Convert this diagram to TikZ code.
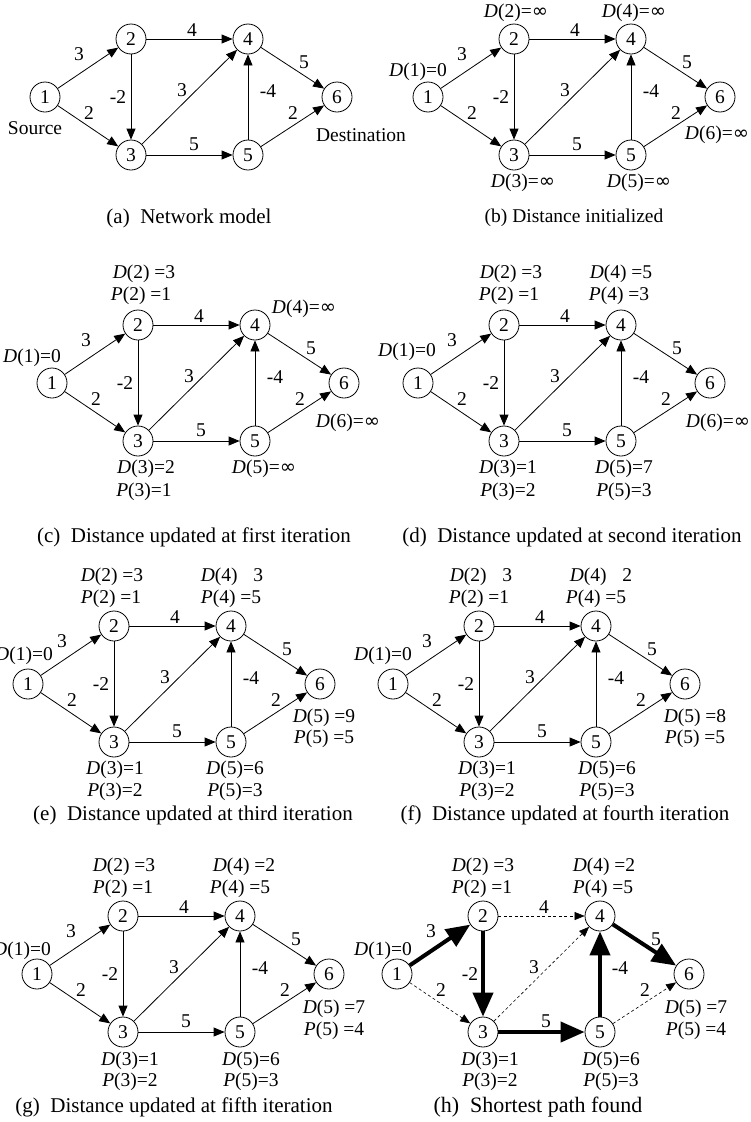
\documentclass[tikz,border=0pt]{standalone}
\usepackage{fontspec}
\setmainfont{Liberation Serif}
\newfontfamily\symfont{DejaVu Sans}
\usetikzlibrary{arrows.meta}

\newcommand\Dd{\textit{D}}
\newcommand\Pp{\textit{P}}
\newcommand\Inf{{\symfont ∞}}

% six-vertex network; #1 = name prefix, (#2,#3) = centre of vertex 1
\newcommand\netgraph[3]{%
  \node[vert] (#11) at (#2,#3) {1};
  \node[vert] (#12) at (#2+86,#3-58) {2};
  \node[vert] (#13) at (#2+86,#3+58) {3};
  \node[vert] (#14) at (#2+203,#3-58) {4};
  \node[vert] (#15) at (#2+203,#3+58) {5};
  \node[vert] (#16) at (#2+292,#3) {6};
  \draw[e12] (#11) -- (#12);
  \draw[e13] (#11) -- (#13);
  \draw[e24] (#12) -- (#14);
  \draw[e23] (#12) -- (#13);
  \draw[e34] (#13) -- (#14);
  \draw[e35] (#13) -- (#15);
  \draw[e54] (#15) -- (#14);
  \draw[e46] (#14) -- (#16);
  \draw[e56] (#15) -- (#16);
  \node[wlab] (#1w12) at (#2+34,#3-43) {3};
  \node[wlab] (#1w13) at (#2+44,#3+16) {2};
  \node[wlab] (#1w24) at (#2+147,#3-67) {4};
  \node[wlab] (#1w23) at (#2+73,#3) {-2};
  \node[wlab] (#1w34) at (#2+137,#3-7) {3};
  \node[wlab] (#1w54) at (#2+223,#3-6) {-4};
  \node[wlab] (#1w35) at (#2+149,#3+47) {5};
  \node[wlab] (#1w46) at (#2+259,#3-35) {5};
  \node[wlab] (#1w56) at (#2+248,#3+16) {2};
}

\begin{document}
\begin{tikzpicture}[x=1pt,y=-1pt,
  vert/.style={circle,draw,line width=0.8pt,minimum size=30pt,inner sep=0pt,
    font=\fontsize{19.5}{20}\selectfont},
  wlab/.style={inner sep=0pt,font=\fontsize{19.5}{20}\selectfont},
  dlab/.style={inner sep=0pt,font=\fontsize{19.5}{20}\selectfont},
  capt/.style={inner sep=0pt,font=\fontsize{21}{24}\selectfont},
  plainedge/.style={-{Triangle[length=11pt,width=9pt]},line width=0.8pt},
  bestedge/.style={-{Triangle[length=24pt,width=20pt]},line width=4pt},
  spareedge/.style={-{Triangle[length=10pt,width=8pt]},line width=0.6pt,
    dash pattern=on 3pt off 2.5pt},
  e12/.style={plainedge},e13/.style={plainedge},e24/.style={plainedge},
  e23/.style={plainedge},e34/.style={plainedge},e35/.style={plainedge},
  e54/.style={plainedge},e46/.style={plainedge},e56/.style={plainedge}]
\useasboundingbox (0,0) rectangle (751,1122);

% (a) network model
\netgraph{a}{45}{97}
\node[dlab] (asrc) at ([shift={(-10,31)}]a1) {Source};
\node[dlab] (adst) at ([shift={(24,38)}]a6) {Destination};
\node[capt] (capa) at (189,218) {(a)\hspace{0.5em}Network model};

% (b) initial distances
\netgraph{b}{428}{97}
\node[dlab] (bD1) at ([shift={(-10,-25)}]b1) {\Dd(1)=0};
\node[dlab] (bD2) at ([shift={(2,-26)}]b2) {\Dd(2)=\Inf};
\node[dlab] (bD4) at ([shift={(3,-26)}]b4) {\Dd(4)=\Inf};
\node[dlab] (bD6) at ([shift={(-3,38)}]b6) {\Dd(6)=\Inf};
\node[dlab] (bD3) at ([shift={(9,28)}]b3) {\Dd(3)=\Inf};
\node[dlab] (bD5) at ([shift={(8,28)}]b5) {\Dd(5)=\Inf};
\node[capt,font=\fontsize{19.5}{22}\selectfont] (capb) at (574,218) {(b) Distance initialized};

% (c) first iteration
\netgraph{c}{52}{383}
\node[dlab] (cD1) at ([shift={(-20,-25)}]c1) {\Dd(1)=0};
\node[dlab] (cD2) at ([shift={(6,-51)}]c2) {\Dd(2) =3};
\node[dlab] (cP2) at ([shift={(3,-29)}]c2) {\Pp(2) =1};
\node[dlab] (cD4) at ([shift={(49,-16)}]c4) {\Dd(4)=\Inf};
\node[dlab] (cD6) at ([shift={(4,40)}]c6) {\Dd(6)=\Inf};
\node[dlab] (cD3) at ([shift={(8,28)}]c3) {\Dd(3)=2};
\node[dlab] (cP3) at ([shift={(6,51)}]c3) {\Pp(3)=1};
\node[dlab] (cD5) at ([shift={(9,28)}]c5) {\Dd(5)=\Inf};
\node[capt] (capc) at (194,537) {(c)\hspace{0.5em}Distance updated at first iteration};

% (d) second iteration
\netgraph{d}{418}{383}
\node[dlab] (dD1) at ([shift={(-11,-31)}]d1) {\Dd(1)=0};
\node[dlab] (dD2) at ([shift={(7,-51)}]d2) {\Dd(2) =3};
\node[dlab] (dP2) at ([shift={(5,-29)}]d2) {\Pp(2) =1};
\node[dlab] (dD4) at ([shift={(0,-51)}]d4) {\Dd(4) =5};
\node[dlab] (dP4) at ([shift={(-2,-29)}]d4) {\Pp(4) =3};
\node[dlab] (dD6) at ([shift={(8,40)}]d6) {\Dd(6)=\Inf};
\node[dlab] (dD3) at ([shift={(4,28)}]d3) {\Dd(3)=1};
\node[dlab] (dP3) at ([shift={(4,51)}]d3) {\Pp(3)=2};
\node[dlab] (dD5) at ([shift={(3,28)}]d5) {\Dd(5)=7};
\node[dlab] (dP5) at ([shift={(3,51)}]d5) {\Pp(5)=3};
\node[capt] (capd) at (572,537) {(d)\hspace{0.5em}Distance updated at second iteration};

% (e) third iteration
\netgraph{e}{28}{684}
\node[dlab] (eD1) at ([shift={(-4,-28)}]e1) {\Dd(1)=0};
\node[dlab] (eD2) at ([shift={(-2,-49)}]e2) {\Dd(2) =3};
\node[dlab] (eP2) at ([shift={(-3,-27)}]e2) {\Pp(2) =1};
\node[dlab] (eD4) at ([shift={(1,-49)}]e4) {\Dd(4) \phantom{=}3};
\node[dlab] (eP4) at ([shift={(0,-27)}]e4) {\Pp(4) =5};
\node[dlab] (eD6) at ([shift={(4,34)}]e6) {\Dd(5) =9};
\node[dlab] (eP6) at ([shift={(4,55)}]e6) {\Pp(5) =5};
\node[dlab] (eD3) at ([shift={(1,28)}]e3) {\Dd(3)=1};
\node[dlab] (eP3) at ([shift={(1,50)}]e3) {\Pp(3)=2};
\node[dlab] (eD5) at ([shift={(4,28)}]e5) {\Dd(5)=6};
\node[dlab] (eP5) at ([shift={(4,50)}]e5) {\Pp(5)=3};
\node[capt] (cape) at (193,815) {(e)\hspace{0.5em}Distance updated at third iteration};

% (f) fourth iteration
\netgraph{f}{393}{684}
\node[dlab] (fD1) at ([shift={(-10,-28)}]f1) {\Dd(1)=0};
\node[dlab] (fD2) at ([shift={(2,-49)}]f2) {\Dd(2) \phantom{=}3};
\node[dlab] (fP2) at ([shift={(0,-27)}]f2) {\Pp(2) =1};
\node[dlab] (fD4) at ([shift={(5,-49)}]f4) {\Dd(4) \phantom{=}2};
\node[dlab] (fP4) at ([shift={(0,-27)}]f4) {\Pp(4) =5};
\node[dlab] (fD6) at ([shift={(10,34)}]f6) {\Dd(5) =8};
\node[dlab] (fP6) at ([shift={(10,55)}]f6) {\Pp(5) =5};
\node[dlab] (fD3) at ([shift={(8,28)}]f3) {\Dd(3)=1};
\node[dlab] (fP3) at ([shift={(8,50)}]f3) {\Pp(3)=2};
\node[dlab] (fD5) at ([shift={(11,28)}]f5) {\Dd(5)=6};
\node[dlab] (fP5) at ([shift={(11,50)}]f5) {\Pp(5)=3};
\node[capt] (capf) at (565,815) {(f)\hspace{0.5em}Distance updated at fourth iteration};

% (g) fifth iteration
\netgraph{g}{37}{974}
\node[dlab] (gD1) at ([shift={(-15,-23)}]g1) {\Dd(1)=0};
\node[dlab] (gD2) at ([shift={(1,-49)}]g2) {\Dd(2) =3};
\node[dlab] (gP2) at ([shift={(0,-27)}]g2) {\Pp(2) =1};
\node[dlab] (gD4) at ([shift={(4,-49)}]g4) {\Dd(4) =2};
\node[dlab] (gP4) at ([shift={(0,-27)}]g4) {\Pp(4) =5};
\node[dlab] (gD6) at ([shift={(5,35)}]g6) {\Dd(5) =7};
\node[dlab] (gP6) at ([shift={(5,57)}]g6) {\Pp(5) =4};
\node[dlab] (gD3) at ([shift={(7,29)}]g3) {\Dd(3)=1};
\node[dlab] (gP3) at ([shift={(7,50)}]g3) {\Pp(3)=2};
\node[dlab] (gD5) at ([shift={(11,29)}]g5) {\Dd(5)=6};
\node[dlab] (gP5) at ([shift={(11,50)}]g5) {\Pp(5)=3};
\node[capt] (capg) at (174,1107) {(g)\hspace{0.5em}Distance updated at fifth iteration};

% (h) shortest path: tree arcs bold, the others dashed
\begin{scope}[e12/.style={bestedge},e23/.style={bestedge},e35/.style={bestedge},
  e54/.style={bestedge},e46/.style={bestedge},
  e13/.style={spareedge},e24/.style={spareedge},e34/.style={spareedge},
  e56/.style={spareedge}]
\netgraph{h}{397}{974}
\end{scope}
\node[dlab] (hD1) at ([shift={(-14,-23)}]h1) {\Dd(1)=0};
\node[dlab] (hD2) at ([shift={(0,-49)}]h2) {\Dd(2) =3};
\node[dlab] (hP2) at ([shift={(-1,-27)}]h2) {\Pp(2) =1};
\node[dlab] (hD4) at ([shift={(4,-49)}]h4) {\Dd(4) =2};
\node[dlab] (hP4) at ([shift={(3,-27)}]h4) {\Pp(4) =5};
\node[dlab] (hD6) at ([shift={(7,35)}]h6) {\Dd(5) =7};
\node[dlab] (hP6) at ([shift={(7,57)}]h6) {\Pp(5) =4};
\node[dlab] (hD3) at ([shift={(7,29)}]h3) {\Dd(3)=1};
\node[dlab] (hP3) at ([shift={(7,50)}]h3) {\Pp(3)=2};
\node[dlab] (hD5) at ([shift={(11,29)}]h5) {\Dd(5)=6};
\node[dlab] (hP5) at ([shift={(11,50)}]h5) {\Pp(5)=3};
\node[capt,font=\fontsize{22}{26}\selectfont] (caph) at (538,1107) {(h)\hspace{0.5em}Shortest path found};
\end{tikzpicture}
\end{document}
